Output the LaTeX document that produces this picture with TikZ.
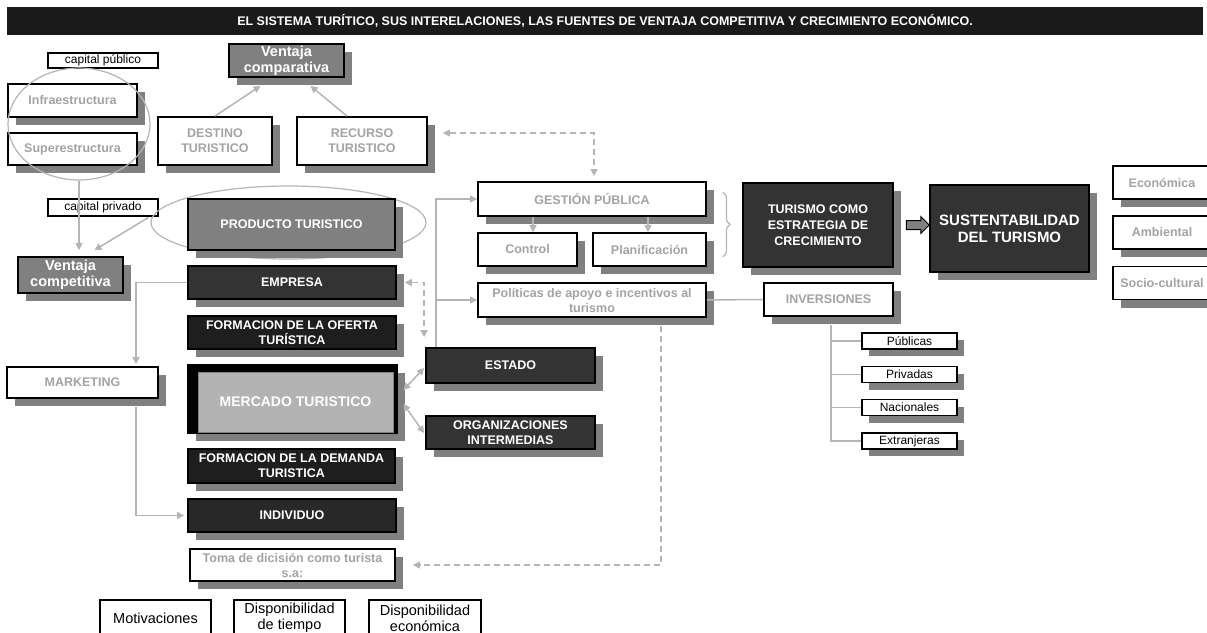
\documentclass[tikz,border=0pt]{standalone}
\usepackage{fontspec}
\setmainfont{Liberation Sans}
\usetikzlibrary{shadows,shapes.geometric,shapes.arrows,decorations.pathreplacing,calc,arrows.meta}
\definecolor{shgray}{HTML}{808080}
\definecolor{txtgray}{HTML}{A3A3A3}
\definecolor{lgray}{HTML}{B5B5B5}
\definecolor{dk}{HTML}{333333}
\definecolor{vdk}{HTML}{1E1E1E}
\definecolor{indk}{HTML}{282828}
\definecolor{midg}{HTML}{808080}
\definecolor{mercfill}{HTML}{B3B3B3}
\definecolor{titlebg}{HTML}{1A1A1A}
\pgfdeclarelayer{bg}
\pgfsetlayers{bg,main}
\tikzset{
 sz/.style 2 args={minimum width=#1, minimum height=#2},
 box/.style={draw=black, line width=1.8pt, inner sep=1pt, align=center,
   font=\fontsize{12.5}{15}\selectfont\bfseries,
   drop shadow={shadow xshift=8pt, shadow yshift=-8pt, fill=shgray, opacity=1}},
 wbox/.style={box, fill=white, text=txtgray},
 dbox/.style={box, fill=dk, text=white},
 bbox/.style={box, fill=vdk, text=white},
 gbox/.style={box, fill=midg, text=white},
 lbl/.style={draw=black, line width=1.3pt, fill=white, inner sep=0pt, align=center,
   font=\fontsize{12}{14}\selectfont},
 sbox/.style={lbl, drop shadow={shadow xshift=7pt, shadow yshift=-7pt, fill=shgray, opacity=1}},
 bot/.style={draw=black, line width=1.3pt, fill=white, inner sep=0pt, align=center,
   font=\fontsize{14.5}{16}\selectfont},
 conn/.style={draw=black, line width=1.3pt},
 gline/.style={draw=lgray, line width=1.5pt},
 garrow/.style={gline, -{Triangle[length=7pt,width=7pt]}},
 gboth/.style={gline, {Triangle[length=7pt,width=7pt]}-{Triangle[length=7pt,width=7pt]}},
 gdash/.style={gline, dash pattern=on 6pt off 4pt},
 oval/.style={draw=lgray, line width=1.2pt, ellipse, inner sep=0pt},
}
\begin{document}
\begin{tikzpicture}[x=1pt,y=-1pt]
\path[use as bounding box] (0,0) rectangle (1207,632);
\clip (0,0) rectangle (1207,632);
\fill[white] (0,0) rectangle (1207,632);

% title
\node[fill=titlebg, text=white, font=\fontsize{12.5}{14}\selectfont\bfseries, sz={1196}{28}, inner sep=0pt] (title) at (605,21)
  {EL SISTEMA TURÍTICO, SUS INTERELACIONES, LAS FUENTES DE VENTAJA COMPETITIVA Y CRECIMIENTO ECONÓMICO.};

% left column
\node[lbl, sz={110}{15}] (cpub) at (103,60.5) {capital público};
\node[wbox, sz={129}{33}] (infra) at (72.5,100.5) {Infraestructura};
\node[wbox, sz={129}{32}] (super) at (72.5,149) {Superestructura};
\node[lbl, sz={110}{17}] (cpriv) at (103,207.5) {capital privado};
\node[gbox, sz={105}{36}, font=\fontsize{14.5}{16}\selectfont\bfseries] (vcompet) at (70.5,275) {Ventaja\\competitiva};
\node[wbox, sz={151}{31}] (marketing) at (82.5,382.5) {MARKETING};

% top
\node[gbox, sz={115}{33}, font=\fontsize{14.5}{16}\selectfont\bfseries] (vcomp) at (286.5,60.5) {Ventaja\\comparativa};
\node[wbox, sz={114}{48}] (destino) at (215,141) {DESTINO\\TURISTICO};
\node[wbox, sz={130}{48}] (recurso) at (362,141) {RECURSO\\TURISTICO};

% central column
\node[oval, sz={275}{73}] (ell2) at (288.5,222.5) {};
\node[gbox, sz={207}{51}] (producto) at (291.5,224.5) {PRODUCTO TURISTICO};
\node[dbox, sz={208}{33}] (empresa) at (292,282.5) {EMPRESA};
\node[bbox, sz={208}{33}] (oferta) at (292,332.5) {FORMACION DE LA OFERTA\\TURÍSTICA};
\node[box, fill=black, sz={209}{68}] (mercb) at (292.5,399) {};
\node[draw=shgray, line width=0.8pt, fill=mercfill, text=white, inner sep=0pt,
  font=\fontsize{14}{16}\selectfont\bfseries, sz={195}{60}] (mercado) at (295.5,402) {MERCADO TURISTICO};
\node[bbox, sz={207}{34}] (demanda) at (291.5,466) {FORMACION DE LA DEMANDA\\TURISTICA};
\node[box, fill=indk, text=white, sz={208}{33}] (individuo) at (292,515.5) {INDIVIDUO};
\node[wbox, sz={205}{32}] (toma) at (292.5,565) {Toma de dicisión como turista\\s.a:};
\node[bot, sz={111}{36}] (motiv) at (155.5,618) {Motivaciones};
\node[bot, sz={111}{36}] (dtiempo) at (289.5,618) {Disponibilidad\\de tiempo};
\node[bot, sz={112}{36}] (decon) at (425,618) {Disponibilidad\\económica};

% middle
\node[dbox, sz={169}{35}] (estado) at (510.5,365.5) {ESTADO};
\node[dbox, sz={169}{33}] (org) at (510.5,432.5) {ORGANIZACIONES\\INTERMEDIAS};
\node[wbox, sz={228}{34}] (gestion) at (592,199) {GESTIÓN PÚBLICA};
\node[wbox, sz={99}{33}] (control) at (527.5,249.5) {Control};
\node[wbox, sz={113}{33}] (planif) at (649.5,249.5) {Planificación};
\node[wbox, sz={228}{34}] (politicas) at (592,300) {Políticas de apoyo e incentivos al\\turismo};
\node[wbox, sz={129}{33}] (inversiones) at (828.5,299.5) {INVERSIONES};
\node[sbox, sz={95}{16}] (publicas) at (909.5,341) {Públicas};
\node[sbox, sz={95}{16}] (privadas) at (909.5,374.5) {Privadas};
\node[sbox, sz={95}{16}] (nacionales) at (909.5,407.5) {Nacionales};
\node[sbox, sz={95}{16}] (extran) at (909.5,441) {Extranjeras};

% right
\node[dbox, sz={150}{84}, font=\fontsize{12.5}{16}\selectfont\bfseries] (turismo) at (818,225) {TURISMO COMO\\ESTRATEGIA DE\\CRECIMIENTO};
\node[single arrow, draw=black, line width=1pt, fill=midg, minimum height=23pt, inner sep=4pt,
  single arrow head extend=4pt] (barrow) at (915.5,225) {};
\node[dbox, sz={159}{87}, font=\fontsize{15}{17}\selectfont\bfseries] (sust) at (1009.5,228.5) {SUSTENTABILIDAD\\DEL TURISMO};
\node[wbox, sz={98}{33}] (econ) at (1162,182.5) {Económica};
\node[wbox, sz={98}{33}] (ambiental) at (1162,232.5) {Ambiental};
\node[wbox, sz={98}{33}] (socio) at (1162,283) {Socio-cultural};

% black connectors (behind)
\begin{pgfonlayer}{bg}
\coordinate (cx) at (284,0);
\coordinate (barL) at ($(super.south west)+(40,17)$);
\draw[conn] ($(super.south west)+(40,7)$) -- (barL) -- ($(recurso.south)+(33,17)$) -- ($(recurso.south)+(33,0)$);
\draw[conn] ($(destino.south)+(-24,0)$) -- ($(destino.south)+(-24,17)$);
\draw[conn] (barL -| cx) -- (producto.north -| cx);
\draw[conn] (producto.south -| cx) -- (empresa.north -| cx);
\draw[conn] (empresa.south -| cx) -- (oferta.north -| cx);
\draw[conn] (oferta.south -| cx) -- (mercb.north -| cx);
\draw[conn] (mercb.south -| cx) -- (demanda.north -| cx);
\draw[conn] (demanda.south -| cx) -- (individuo.north -| cx);
\draw[conn] (individuo.south -| cx) -- (toma.north -| cx);
\draw[conn] (toma.south -| cx) -- ($(toma.south -| cx)+(0,12)$) coordinate (split);
\draw[conn] (split) -- (dtiempo.north -| cx);
\draw[conn] ($(motiv.north)+(2.5,0)$) |- (split) -| ($(decon.north)+(2,0)$);
\draw[conn] ($(infra.north west)+(16,0)$) |- (cpub.west);
\draw[conn] ($(super.south west)+(19,7)$) |- (cpriv.west);
\draw[conn] (econ.west) -| ($(sust.east)+(11,0)$) |- (socio.west);
\draw[conn] (sust.east |- ambiental.west) -- (ambiental.west);
\end{pgfonlayer}

% ellipse around infra/super
\node[oval, sz={142}{112}] (ell1) at (79,124) {};

% grey arrows
\draw[garrow] (destino.north) -- ($(vcomp.south)+(-26,8)$);
\draw[garrow] ($(recurso.north)+(-15,0)$) -- ($(vcomp.south)+(24,8)$);
\draw[garrow] (ell1.south) -- ($(vcompet.north)+(8.5,-6)$);
\draw[garrow] ($(ell2.west)+(-2,-5)$) -- ($(vcompet.north)+(24,-6)$);
\draw[garrow] (empresa.west) -| ($(marketing.north)+(53.5,-2)$);
\draw[garrow] ($(marketing.south)+(53.5,8)$) |- ($(individuo.west)+(-3,0)$);
\coordinate (gx) at ($(estado.north west)+(11,0)$);
\draw[garrow] (gx) |- (gestion.west);
\draw[garrow] (gx |- politicas.west) -- (politicas.west);
\draw[garrow] ($(gestion.south)+(-59,0)$) -- ($(control.north)+(5.5,0)$);
\draw[garrow] ($(gestion.south)+(56,0)$) -- ($(planif.north)+(-1.5,0)$);
\draw[gboth] ($(mercado.east)+(10,-12)$) -- ($(estado.west)+(-1,2.5)$);
\draw[gboth] ($(mercado.east)+(10,2)$) -- ($(org.west)+(-1,0.5)$);
\draw[gline] (politicas.east) -- (inversiones.west);
\coordinate (ix) at ($(inversiones.south)+(2.5,8)$);
\draw[gline] (ix) |- (extran.west);
\draw[gline] (ix |- publicas.west) -- (publicas.west);
\draw[gline] (ix |- privadas.west) -- (privadas.west);
\draw[gline] (ix |- nacionales.west) -- (nacionales.west);
% dashed
\draw[gdash, {Triangle[length=7pt,width=7pt]}-{Triangle[length=7pt,width=7pt]}] ($(recurso.east)+(15,-8)$) -| ($(gestion.north)+(2,-5)$);
\draw[gdash, {Triangle[length=7pt,width=7pt]}-{Triangle[length=7pt,width=7pt]}] ($(empresa.east)+(8,0)$) -| ($(estado.north west)+(-1,-10)$);
\draw[gdash, -{Triangle[length=7pt,width=7pt]}] ($(politicas.south)+(69,8)$) |- ($(toma.east)+(17,0)$);
% brace
\draw[lgray, line width=1.2pt, decorate, decoration={brace, amplitude=7pt}]
  ($(gestion.north east)+(16,11)$) -- ($(planif.south east)+(16,-10)$);
\end{tikzpicture}
\end{document}
